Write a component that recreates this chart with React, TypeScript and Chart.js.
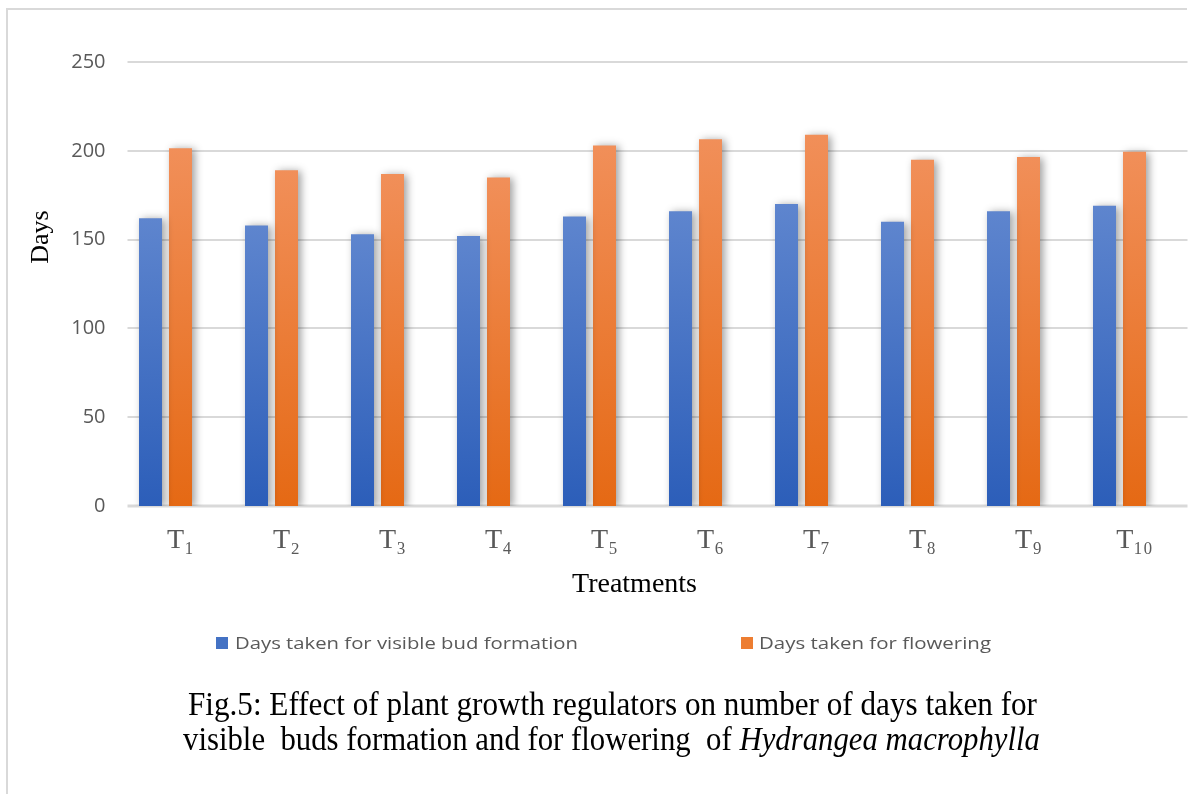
import React, { useEffect, useLayoutEffect, useRef } from "react";
import { Chart, registerables } from "chart.js";

Chart.register(...registerables);

// ---- data ----
const treatments = [
  "T\u2081", "T\u2082", "T\u2083", "T\u2084", "T\u2085",
  "T\u2086", "T\u2087", "T\u2088", "T\u2089", "T\u2081\u2080",
];
const budFormationDays = [162, 158, 153, 152, 163, 166, 170, 160, 166, 169];
const floweringDays = [201.5, 189, 187, 185, 203, 206.5, 209, 195, 196.5, 199.5];
const dayTicks = [0, 50, 100, 150, 200, 250];
const seriesLabels = ["Days taken for visible bud formation", "Days taken for flowering"];
const yTitle = "Days";
const xTitle = "Treatments";
const captionLine1 = "Fig.5: Effect of plant growth regulators on number of days taken for";
const captionLine2 = "visible  buds formation and for flowering  of ";
const captionSpecies = "Hydrangea macrophylla";

// ---- look ----
const W = 1196;
const H = 794;
const GRID = "#d9d9d9";
const TICK_GREY = "#595959";
const SERIF = "'Liberation Serif', 'DejaVu Serif', serif";
const SANS = "'Open Sans', 'Noto Sans', sans-serif";
const BLUE = { top: "#5e85ce", bottom: "#2c5eb9", key: "#4472c4" };
const ORANGE = { top: "#f18f59", bottom: "#e56914", key: "#ed7d31" };
const shades = [BLUE, ORANGE];
const GRID_SHIFT = 15; // grid lines and labels sit a little right of the bar slots

function barFill(shade: { top: string; bottom: string }) {
  return (ctx: any) => {
    const chart = ctx.chart;
    const y = chart.scales && chart.scales.y;
    if (!chart.chartArea || !y || ctx.type !== "data") return shade.bottom;
    const value = ctx.parsed ? ctx.parsed.y : ctx.raw;
    const top = y.getPixelForValue(value);
    const base = y.getPixelForValue(0);
    if (!isFinite(top) || !isFinite(base) || top === base) return shade.bottom;
    const g = chart.ctx.createLinearGradient(0, top, 0, base);
    g.addColorStop(0, shade.top);
    g.addColorStop(1, shade.bottom);
    return g;
  };
}

const framePlugin = {
  id: "frame",
  beforeDraw(chart: any) {
    const c = chart.ctx;
    c.save();
    c.strokeStyle = GRID;
    c.lineWidth = 2;
    c.beginPath();
    c.moveTo(7, H);
    c.lineTo(7, 9);
    c.lineTo(1187, 9);
    c.stroke();
    c.restore();
  },
};

const gridPlugin = {
  id: "shiftedGrid",
  beforeDatasetsDraw(chart: any) {
    const { ctx, chartArea, scales } = chart;
    ctx.save();
    ctx.strokeStyle = GRID;
    dayTicks.forEach((v) => {
      const y = Math.round(scales.y.getPixelForValue(v));
      ctx.lineWidth = v === 0 ? 3 : 2;
      ctx.beginPath();
      ctx.moveTo(chartArea.left + GRID_SHIFT, y);
      ctx.lineTo(chartArea.right + GRID_SHIFT, y);
      ctx.stroke();
    });
    ctx.restore();
  },
};

const shadowPlugin = {
  id: "barShadow",
  beforeDatasetsDraw(chart: any) {
    const c = chart.ctx;
    c.save();
    c.shadowColor = "rgba(0,0,0,0.38)";
    c.shadowBlur = 8;
    c.shadowOffsetX = 3;
    c.shadowOffsetY = 1;
  },
  afterDatasetsDraw(chart: any) {
    chart.ctx.restore();
  },
};

const axisTitlePlugin = {
  id: "axisTitles",
  afterDraw(chart: any) {
    const { ctx, chartArea } = chart;
    ctx.save();
    ctx.fillStyle = "#000";
    ctx.textAlign = "center";
    ctx.textBaseline = "alphabetic";
    ctx.font = `26px ${SERIF}`;
    ctx.translate(48, chartArea.top + 175);
    ctx.rotate(-Math.PI / 2);
    ctx.fillText(yTitle, 0, 0);
    ctx.restore();

    ctx.save();
    ctx.fillStyle = "#000";
    ctx.textAlign = "center";
    ctx.textBaseline = "alphabetic";
    ctx.font = `28px ${SERIF}`;
    ctx.fillText(xTitle, (chartArea.left + chartArea.right) / 2 - 8, chartArea.bottom + 86);
    ctx.restore();
  },
};

function FitText(props: {
  left: number;
  top: number;
  width: number;
  style?: React.CSSProperties;
  children: React.ReactNode;
}) {
  const ref = useRef<HTMLDivElement>(null);
  useLayoutEffect(() => {
    const el = ref.current;
    if (!el) return;
    el.style.transform = "none";
    const natural = el.getBoundingClientRect().width;
    if (natural > 0) el.style.transform = `scaleX(${props.width / natural})`;
  }, [props.width]);
  return (
    <div
      ref={ref}
      style={{
        position: "absolute",
        left: props.left,
        top: props.top,
        width: "max-content",
        whiteSpace: "pre",
        lineHeight: 1,
        transformOrigin: "0 0",
        ...props.style,
      }}
    >
      {props.children}
    </div>
  );
}

const legendSlots = [
  { box: 216, text: 235, width: 343 },
  { box: 741, text: 759, width: 232 },
];

export default function App() {
  const canvasRef = useRef<HTMLCanvasElement>(null);

  useEffect(() => {
    const canvas = canvasRef.current;
    if (!canvas) return;
    const chart = new Chart(canvas, {
      type: "bar",
      data: {
        labels: treatments,
        datasets: [
          {
            label: seriesLabels[0],
            data: budFormationDays,
            backgroundColor: barFill(BLUE),
            borderWidth: 0,
          },
          {
            label: seriesLabels[1],
            data: floweringDays,
            backgroundColor: barFill(ORANGE),
            borderWidth: 0,
          },
        ],
      },
      options: {
        responsive: false,
        animation: false,
        devicePixelRatio: 1,
        layout: { padding: { left: 0, top: 62, right: 23.5, bottom: 228 } },
        datasets: { bar: { categoryPercentage: 0.566, barPercentage: 0.767 } },
        plugins: {
          legend: { display: false },
          tooltip: { enabled: false },
        },
        scales: {
          x: {
            grid: { display: false, drawTicks: false },
            border: { display: false },
            ticks: {
              color: TICK_GREY,
              font: { family: SERIF, size: 28 },
              padding: 18,
              labelOffset: GRID_SHIFT,
              maxRotation: 0,
              autoSkip: false,
            },
            afterFit: (s: any) => {
              s.height = 60;
              s.paddingLeft = 0;
              s.paddingRight = 0;
            },
          },
          y: {
            min: 0,
            max: 250,
            grid: { display: false, drawTicks: false },
            border: { display: false },
            ticks: {
              color: TICK_GREY,
              font: { family: SANS, size: 20 },
              padding: 7,
            },
            afterBuildTicks: (s: any) => {
              s.ticks = dayTicks.map((v) => ({ value: v }));
            },
            afterFit: (s: any) => {
              s.width = 112.5;
              s.paddingTop = 0;
              s.paddingBottom = 0;
            },
          },
        },
      },
      plugins: [framePlugin, gridPlugin, shadowPlugin, axisTitlePlugin],
    } as any);
    return () => chart.destroy();
  }, []);

  return (
    <div
      style={{
        position: "absolute",
        left: 0,
        top: 0,
        width: W,
        height: H,
        background: "#fff",
        overflow: "hidden",
      }}
    >
      <canvas
        ref={canvasRef}
        width={W}
        height={H}
        style={{ position: "absolute", left: 0, top: 0, width: W, height: H }}
      />
      {seriesLabels.map((label, i) => (
        <React.Fragment key={label}>
          <div
            style={{
              position: "absolute",
              left: legendSlots[i].box,
              top: 637,
              width: 12,
              height: 12,
              background: shades[i].key,
            }}
          />
          <FitText
            left={legendSlots[i].text}
            top={634}
            width={legendSlots[i].width}
            style={{ fontFamily: SANS, fontSize: 17, color: TICK_GREY }}
          >
            {label}
          </FitText>
        </React.Fragment>
      ))}
      <FitText left={188} top={688} width={849} style={{ fontFamily: SERIF, fontSize: 33, color: "#000" }}>
        {captionLine1}
      </FitText>
      <FitText left={183} top={723} width={857} style={{ fontFamily: SERIF, fontSize: 33, color: "#000" }}>
        {captionLine2}
        <i>{captionSpecies}</i>
      </FitText>
    </div>
  );
}
